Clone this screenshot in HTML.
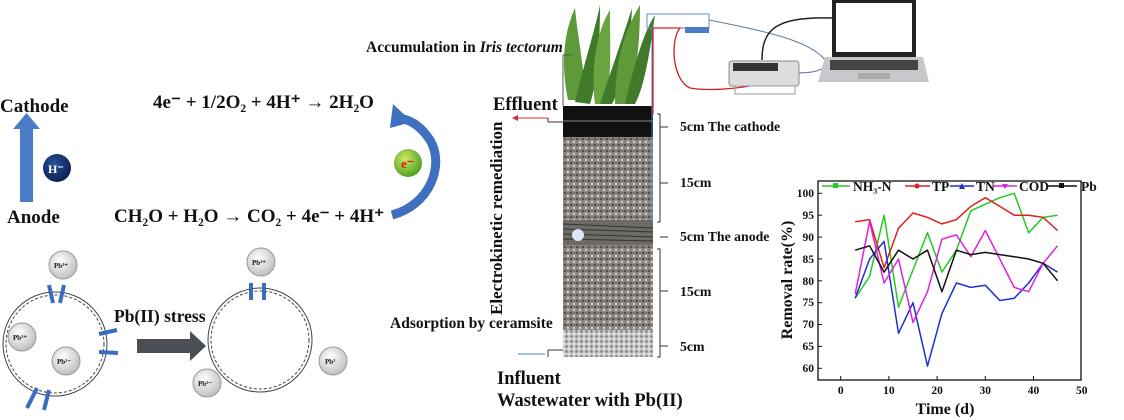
<!DOCTYPE html>
<html><head><meta charset="utf-8"><style>
body{margin:0;background:#fff;width:1124px;height:420px;overflow:hidden}
svg{display:block}
text{font-family:"Liberation Serif",serif;font-weight:bold;fill:#111}
</style></head><body>
<svg width="1124" height="420" viewBox="0 0 1124 420" xmlns="http://www.w3.org/2000/svg">
<defs>
<radialGradient id="g1" cx="0.4" cy="0.35" r="0.7"><stop offset="0" stop-color="#fff"/><stop offset="1" stop-color="#bbb"/></radialGradient>
<radialGradient id="g2" cx="0.4" cy="0.35" r="0.7"><stop offset="0" stop-color="#cfe860"/><stop offset="1" stop-color="#4a9a20"/></radialGradient>
<radialGradient id="g3" cx="0.4" cy="0.35" r="0.7"><stop offset="0" stop-color="#2a4f9a"/><stop offset="1" stop-color="#0a1f50"/></radialGradient>
<pattern id="grav" width="6" height="6" patternUnits="userSpaceOnUse"><rect width="6" height="6" fill="#8a8580"/><circle cx="1" cy="1" r="1" fill="#3a3835"/><circle cx="4" cy="4" r="1.2" fill="#d8d4cc"/><circle cx="4" cy="1" r=".7" fill="#555"/></pattern>
<pattern id="cer" width="5" height="5" patternUnits="userSpaceOnUse"><rect width="5" height="5" fill="#c8c8c8"/><circle cx="1.5" cy="1.5" r="1.2" fill="#777"/><circle cx="4" cy="4" r="1" fill="#eee"/></pattern>
</defs>
<!-- left electrochem -->
<text x="0" y="112" font-size="19">Cathode</text>
<rect x="20" y="128" width="13" height="74" fill="#4a7cc8"/>
<polygon points="13,129 40,129 26.5,113" fill="#4a7cc8"/>
<circle cx="57" cy="168" r="14" fill="url(#g3)"/>
<text x="48" y="173" font-size="12" style="fill:#fff">H⁻</text>
<text x="7" y="223" font-size="19">Anode</text>
<text x="153" y="108" font-size="19">4e⁻ + 1/2O₂ + 4H⁺ → 2H₂O</text>
<text x="114" y="222" font-size="19">CH₂O + H₂O → CO₂ + 4e⁻ + 4H⁺</text>
<path d="M392,215 C430,205 445,165 430,140 C420,125 410,120 400,118" fill="none" stroke="#3f6fbf" stroke-width="9"/>
<polygon points="393,104 390,128 412,122" fill="#3f6fbf"/>
<circle cx="408" cy="163" r="14" fill="url(#g2)"/>
<text x="401" y="168" font-size="13" style="fill:#d02010">e⁻</text>
<!-- cells -->
<g fill="none" stroke="#444" stroke-width="1">
<circle cx="55" cy="344" r="52"/><circle cx="55" cy="344" r="49" stroke-dasharray="3 2"/>
<circle cx="260" cy="340" r="52"/><circle cx="260" cy="340" r="49" stroke-dasharray="3 2"/>
</g>
<g stroke="#3a6cc0" stroke-width="4">
<line x1="49" y1="285" x2="53" y2="303"/><line x1="64" y1="285" x2="60" y2="303"/>
<line x1="99" y1="334" x2="117" y2="330"/><line x1="99" y1="352" x2="118" y2="353"/>
<line x1="37" y1="388" x2="27" y2="408"/><line x1="49" y1="390" x2="44" y2="410"/>
<line x1="251" y1="283" x2="251" y2="300"/><line x1="264" y1="283" x2="264" y2="300"/>
</g>
<rect x="137" y="339" width="55" height="14" fill="#4a4f55"/>
<polygon points="190,331 206,346 190,361" fill="#4a4f55"/>
<text x="114" y="322" font-size="17.5">Pb(II) stress</text>
<g font-size="7">
<circle cx="63" cy="265" r="14" fill="url(#g1)" stroke="#999"/><text x="54" y="268">Pb²⁺</text>
<circle cx="22" cy="337" r="14" fill="url(#g1)" stroke="#999"/><text x="13" y="340">Pb²⁺</text>
<circle cx="66" cy="361" r="14" fill="url(#g1)" stroke="#999"/><text x="57" y="364">Pb²⁻</text>
<circle cx="261" cy="262" r="14" fill="url(#g1)" stroke="#999"/><text x="252" y="265">Pb²⁺</text>
<circle cx="207" cy="383" r="14" fill="url(#g1)" stroke="#999"/><text x="198" y="386">Pb²⁻</text>
<circle cx="333" cy="361" r="14" fill="url(#g1)" stroke="#999"/><text x="325" y="364">Pb²</text>
</g>
<!-- column -->
<g fill="#3f7a2a">
<path d="M568,100 C560,60 565,30 575,8 C578,40 585,70 585,100Z" fill="#5f9a3a"/>
<path d="M575,102 C585,60 595,30 600,5 C600,40 598,80 590,104Z"/>
<path d="M595,104 C590,60 600,25 610,10 C610,50 612,80 605,104Z" fill="#6aa640"/>
<path d="M600,104 C615,60 625,30 632,8 C630,50 625,80 612,104Z"/>
<path d="M615,104 C615,60 625,30 640,5 C640,50 635,85 625,104Z" fill="#5f9a3a"/>
<path d="M625,104 C635,60 645,30 655,15 C650,50 645,85 635,104Z"/>
</g>
<line x1="563" y1="55" x2="573" y2="55" stroke="#555"/><line x1="563" y1="55" x2="563" y2="106" stroke="#555"/>
<rect x="563" y="106" width="90" height="31" fill="#111"/>
<line x1="563" y1="121" x2="653" y2="121" stroke="#888"/>
<rect x="563" y="137" width="90" height="83" fill="url(#grav)"/>
<rect x="563" y="220" width="90" height="25" fill="#6e6a66"/>
<g stroke="#333" stroke-width="1"><line x1="563" y1="224" x2="653" y2="228"/><line x1="563" y1="229" x2="653" y2="232"/><line x1="563" y1="234" x2="653" y2="237"/><line x1="563" y1="239" x2="653" y2="241"/></g>
<circle cx="578" cy="235" r="6" fill="#dde6f5"/>
<rect x="563" y="245" width="90" height="85" fill="url(#grav)"/>
<rect x="563" y="330" width="90" height="27" fill="url(#cer)"/>
<text x="366" y="52" font-size="15.5">Accumulation in <tspan font-style="italic">Iris tectorum</tspan></text>
<text x="493" y="110" font-size="18.5">Effluent</text>
<line x1="515" y1="118" x2="548" y2="118" stroke="#d03030"/><polygon points="512,118 518,115 518,121" fill="#d03030"/>
<line x1="548" y1="118" x2="548" y2="122" stroke="#333"/><line x1="548" y1="122" x2="563" y2="122" stroke="#333"/>
<text transform="translate(502,315) rotate(-90)" font-size="17">Electrokinetic remediation</text>
<text x="390" y="328" font-size="15.5">Adsorption by ceramsite</text>
<line x1="518" y1="354" x2="545" y2="354" stroke="#4a7cc8"/>
<line x1="548" y1="350" x2="548" y2="357" stroke="#333"/><line x1="548" y1="350" x2="563" y2="350" stroke="#333"/>
<text x="497" y="384" font-size="18.5">Influent</text>
<text x="497" y="406" font-size="18.5">Wastewater with Pb(II)</text>
<g stroke="#333" fill="none">
<path d="M657,114 h3 v108 h-3"/><line x1="660" y1="127" x2="668" y2="127"/>
<line x1="660" y1="183" x2="668" y2="183"/>
<path d="M657,249 h3 v108 h-3"/><line x1="660" y1="237" x2="668" y2="237"/>
<line x1="660" y1="291" x2="668" y2="291"/><line x1="660" y1="346" x2="668" y2="346"/>
</g>
<g font-size="13.8">
<text x="680" y="131">5cm The cathode</text>
<text x="680" y="187">15cm</text>
<text x="680" y="241">5cm The anode</text>
<text x="680" y="296">15cm</text>
<text x="680" y="351">5cm</text>
</g>
<!-- wires/devices -->
<rect x="647" y="14" width="62" height="14" fill="none" stroke="#6a8ac8"/>
<rect x="685" y="27" width="24" height="6" fill="#4a7cc8"/>
<path d="M652,220 V27" stroke="#4a7cc8" fill="none"/>
<path d="M653,114 V28 H680 C670,40 672,80 690,88 C710,92 760,88 775,77" stroke="#d02020" stroke-width="1.3" fill="none"/>
<path d="M709,20 C760,30 810,40 825,60 C828,70 815,73 795,73" stroke="#5a7aa8" fill="none"/>
<path d="M762,60 C762,30 775,16 832,18" stroke="#222" stroke-width="1.5" fill="none"/>
<rect x="729" y="61" width="70" height="25" rx="3" fill="#ddd" stroke="#888"/>
<rect x="733" y="63" width="45" height="8" fill="#333"/>
<rect x="735" y="86" width="60" height="8" fill="none" stroke="#999"/>
<rect x="832" y="0" width="84" height="57" fill="#222"/>
<rect x="836" y="3" width="76" height="49" fill="#fff"/>
<polygon points="825,57 923,57 929,82 818,82" fill="#c8c8cc"/>
<rect x="830" y="60" width="88" height="10" fill="#444"/>
<rect x="858" y="73" width="32" height="6" fill="#aaa"/>
<!-- chart -->
<rect x="818" y="181" width="263" height="199" fill="none" stroke="#111" stroke-width="1.3"/>
<g stroke="#111">
<line x1="818" y1="368.3" x2="822" y2="368.3"/><line x1="818" y1="346.4" x2="822" y2="346.4"/><line x1="818" y1="324.5" x2="822" y2="324.5"/><line x1="818" y1="302.7" x2="822" y2="302.7"/><line x1="818" y1="280.8" x2="822" y2="280.8"/><line x1="818" y1="258.9" x2="822" y2="258.9"/><line x1="818" y1="237.1" x2="822" y2="237.1"/><line x1="818" y1="215.2" x2="822" y2="215.2"/><line x1="818" y1="193.3" x2="822" y2="193.3"/>
<line x1="840.7" y1="380" x2="840.7" y2="376"/><line x1="888.9" y1="380" x2="888.9" y2="376"/><line x1="937.1" y1="380" x2="937.1" y2="376"/><line x1="985.3" y1="380" x2="985.3" y2="376"/><line x1="1033.5" y1="380" x2="1033.5" y2="376"/>
</g>
<g font-size="11.5" text-anchor="end">
<text x="814" y="372">60</text><text x="814" y="350">65</text><text x="814" y="328">70</text><text x="814" y="306">75</text><text x="814" y="285">80</text><text x="814" y="263">85</text><text x="814" y="241">90</text><text x="814" y="219">95</text><text x="814" y="197">100</text>
</g>
<g font-size="11.5" text-anchor="middle">
<text x="840.7" y="394">0</text><text x="888.9" y="394">10</text><text x="937.1" y="394">20</text><text x="985.3" y="394">30</text><text x="1033.5" y="394">40</text><text x="1081.7" y="394">50</text>
</g>
<text x="945" y="414" font-size="16" text-anchor="middle">Time (d)</text>
<text transform="translate(792,280) rotate(-90)" font-size="16" text-anchor="middle">Removal rate(%)</text>
<g fill="none" stroke-width="1.5" stroke-linejoin="round">
<polyline stroke="#22cc22" points="855.2,298.3 869.6,276.4 884.1,215.2 898.5,307.1 913,269.9 927.5,232.7 941.9,272.1 956.4,250.2 970.8,210.8 985.3,204.2 999.8,197.7 1014.2,193.3 1028.7,232.7 1043.1,217.4 1057.6,215.2"/>
<polyline stroke="#e02020" points="855.2,221.7 869.6,219.6 884.1,267.7 898.5,228.3 913,213 927.5,217.4 941.9,223.9 956.4,219.6 970.8,206.4 985.3,197.7 999.8,206.4 1014.2,215.2 1028.7,215.2 1043.1,217.4 1057.6,230.5"/>
<polyline stroke="#2030d0" points="855.2,298.3 869.6,259 884.1,241.4 898.5,333.3 913,302.7 927.5,366.1 941.9,313.6 956.4,283 970.8,287.4 985.3,285.2 999.8,300.5 1014.2,298.3 1028.7,283 1043.1,263.3 1057.6,272.1"/>
<polyline stroke="#e020e0" points="855.2,293.9 869.6,221.7 884.1,283 898.5,259 913,322.4 927.5,291.7 941.9,239.2 956.4,234.9 970.8,256.7 985.3,230.5 999.8,259 1014.2,287.4 1028.7,291.7 1043.1,263.3 1057.6,245.8"/>
<polyline stroke="#111" points="855.2,250.2 869.6,245.8 884.1,272.1 898.5,250.2 913,259 927.5,250.2 941.9,291.7 956.4,250.2 970.8,254.6 985.3,252.4 999.8,254.6 1014.2,256.7 1028.7,259 1043.1,263.3 1057.6,280.8"/>
</g>
<g stroke-width="1.5">
<line x1="822" y1="186" x2="850" y2="186" stroke="#22cc22"/><rect x="833" y="183" width="5" height="5" fill="#22cc22"/>
<line x1="905" y1="186" x2="930" y2="186" stroke="#e02020"/><circle cx="917" cy="186" r="2.5" fill="#e02020"/>
<line x1="950" y1="186" x2="974" y2="186" stroke="#2030d0"/><polygon points="962,183 965,189 959,189" fill="#2030d0"/>
<line x1="993" y1="186" x2="1017" y2="186" stroke="#e020e0"/><polygon points="1002,184 1008,184 1005,189" fill="#e020e0"/>
<line x1="1047" y1="186" x2="1077" y2="186" stroke="#111"/><rect x="1059" y="183" width="5" height="5" fill="#111"/>
</g>
<g font-size="13.5">
<text x="853" y="191">NH₃-N</text><text x="932" y="191">TP</text><text x="976" y="191">TN</text><text x="1019" y="191">COD</text><text x="1081" y="191">Pb</text>
</g>
</svg>
</body></html>
